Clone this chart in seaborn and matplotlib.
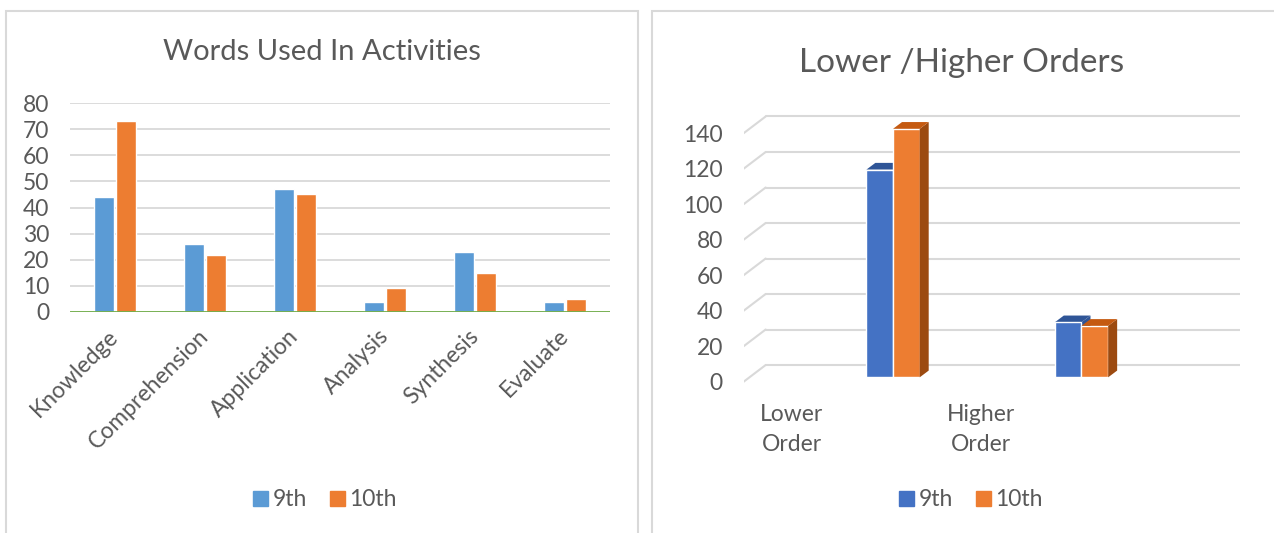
import numpy as np
import pandas as pd
import matplotlib
matplotlib.use('Agg')
import matplotlib.pyplot as plt
from matplotlib.patches import Polygon, Rectangle, Patch
import seaborn as sns

# data
categories = ['Knowledge', 'Comprehension', 'Application', 'Analysis', 'Synthesis', 'Evaluate']
ninth = [44, 26, 47, 4, 23, 4]
tenth = [73, 22, 45, 9, 15, 5]

orders = ['Lower Order', 'Higher Order']
order_labels = ['Lower\nOrder', 'Higher\nOrder']
ninth_orders = [117, 31]
tenth_orders = [140, 29]

grades = ['9th', '10th']
left_ticks = [0, 10, 20, 30, 40, 50, 60, 70, 80]
right_ticks = [0, 20, 40, 60, 80, 100, 120, 140]

sns.set_theme(style='white')
plt.rcParams['font.family'] = ['Lato', 'DejaVu Sans']
txt = '#595959'
grid_c = '#D9D9D9'

W, H = 1274, 533
fig = plt.figure(figsize=(W / 100, H / 100), dpi=100)

def fx(px):
    return px / W

def fy(py):
    return 1 - py / H

# panel frames
fig.add_artist(Rectangle((fx(6), fy(560)), fx(632), fy(11) - fy(560), transform=fig.transFigure,
                         fill=False, edgecolor=grid_c, lw=1.5))
fig.add_artist(Rectangle((fx(652), fy(560)), fx(700), fy(11) - fy(560), transform=fig.transFigure,
                         fill=False, edgecolor=grid_c, lw=1.5))

# ---- left chart ----
df = pd.DataFrame({'category': categories * 2,
                   'grade': ['9th'] * len(categories) + ['10th'] * len(categories),
                   'value': ninth + tenth})
pal1 = {'9th': '#5B9BD5', '10th': '#ED7D31'}

ax1 = fig.add_axes([fx(70), fy(312), fx(540), fy(103) - fy(312)])
sns.barplot(data=df, x='category', y='value', hue='grade', hue_order=grades, palette=pal1,
            width=0.5, gap=0.12, saturation=1, legend=False, ax=ax1, zorder=3)
ax1.set_xlim(-0.5, len(categories) - 0.5)
ax1.set_ylim(0, 80)
ax1.set_yticks(left_ticks)
ax1.yaxis.grid(True, color=grid_c, lw=1.3)
ax1.set_axisbelow(True)
ax1.axhline(0, color='#70AD47', lw=2, zorder=4)
for s in ax1.spines.values():
    s.set_visible(False)
ax1.set_xlabel('')
ax1.set_ylabel('')
ax1.tick_params(axis='y', length=0, pad=15, labelsize=16.5, labelcolor=txt)
ax1.tick_params(axis='x', length=0, pad=15, labelsize=16.5, labelcolor=txt)
for lab in ax1.get_xticklabels():
    lab.set_rotation(45)
    lab.set_ha('right')
    lab.set_va('center')
    lab.set_rotation_mode('anchor')

fig.text(fx(322), fy(52), 'Words Used In Activities', ha='center', va='center', fontsize=21, color=txt)
fig.legend(handles=[Patch(color=pal1[g], label=g) for g in grades], loc='center',
           bbox_to_anchor=(fx(325), fy(500)), ncol=2, frameon=False, fontsize=16.5,
           handlelength=0.65, handleheight=0.65, handletextpad=0.2, columnspacing=1.0,
           labelcolor=txt)

# ---- right chart (3d look) ----
df2 = pd.DataFrame({'order': orders * 2,
                    'grade': ['9th'] * len(orders) + ['10th'] * len(orders),
                    'value': ninth_orders + tenth_orders})
pal2 = {'9th': '#4472C4', '10th': '#ED7D31'}
tops = {'9th': '#2F5597', '10th': '#C55A11'}
sides = {'9th': '#2F5597', '10th': '#9C4A10'}

ax2 = fig.add_axes([fx(743.6), fy(386.2), fx(496), fy(111.05) - fy(386.2)])
sns.barplot(data=df2, x='order', y='value', hue='grade', hue_order=grades, palette=pal2,
            width=0.283, saturation=1, legend=False, ax=ax2)
ax2.set_xlim(-0.793, 1.839)
ax2.set_ylim(-5, 150)

# wall / floor depth in data units
back_dx, back_dy, front_dy = 0.117, 6.93, -2.5
for v in right_ticks:
    ax2.plot([-0.793, -0.793 + back_dx], [v + front_dy, v + back_dy], color=grid_c, lw=1.5, zorder=0)
    ax2.plot([-0.793 + back_dx, 1.839], [v + back_dy, v + back_dy], color=grid_c, lw=1.5, zorder=0)

dx, dy = 0.0477, 3.8
for cont, g in zip(ax2.containers, grades):
    z = 2 if g == '9th' else 4
    for bar in cont:
        bar.set_zorder(3)
        x0, w, h = bar.get_x(), bar.get_width(), bar.get_height()
        ax2.add_patch(Polygon([(x0 + w, 0), (x0 + w + dx, dy), (x0 + w + dx, h + dy), (x0 + w, h)],
                              closed=True, facecolor=sides[g], edgecolor='none', zorder=z))
        ax2.add_patch(Polygon([(x0, h), (x0 + w, h), (x0 + w + dx, h + dy), (x0 + dx, h + dy)],
                              closed=True, facecolor=tops[g], edgecolor='none', zorder=z))

ax2.set_yticks([v + front_dy for v in right_ticks], labels=[str(v) for v in right_ticks])
ax2.set_xticks([-0.539, 0.466], labels=order_labels)
for lab in ax2.get_xticklabels():
    lab.set_linespacing(1.5)
for s in ax2.spines.values():
    s.set_visible(False)
ax2.set_xlabel('')
ax2.set_ylabel('')
ax2.tick_params(axis='y', length=0, pad=15, labelsize=16.5, labelcolor=txt)
ax2.tick_params(axis='x', length=0, pad=13, labelsize=16.5, labelcolor=txt)

fig.text(fx(962), fy(63), 'Lower /Higher Orders', ha='center', va='center', fontsize=24, color=txt)
fig.legend(handles=[Patch(color=pal2[g], label=g) for g in grades], loc='center',
           bbox_to_anchor=(fx(971), fy(500)), ncol=2, frameon=False, fontsize=16.5,
           handlelength=0.65, handleheight=0.65, handletextpad=0.2, columnspacing=1.0,
           labelcolor=txt)

fig.savefig('out.png', dpi=100)
